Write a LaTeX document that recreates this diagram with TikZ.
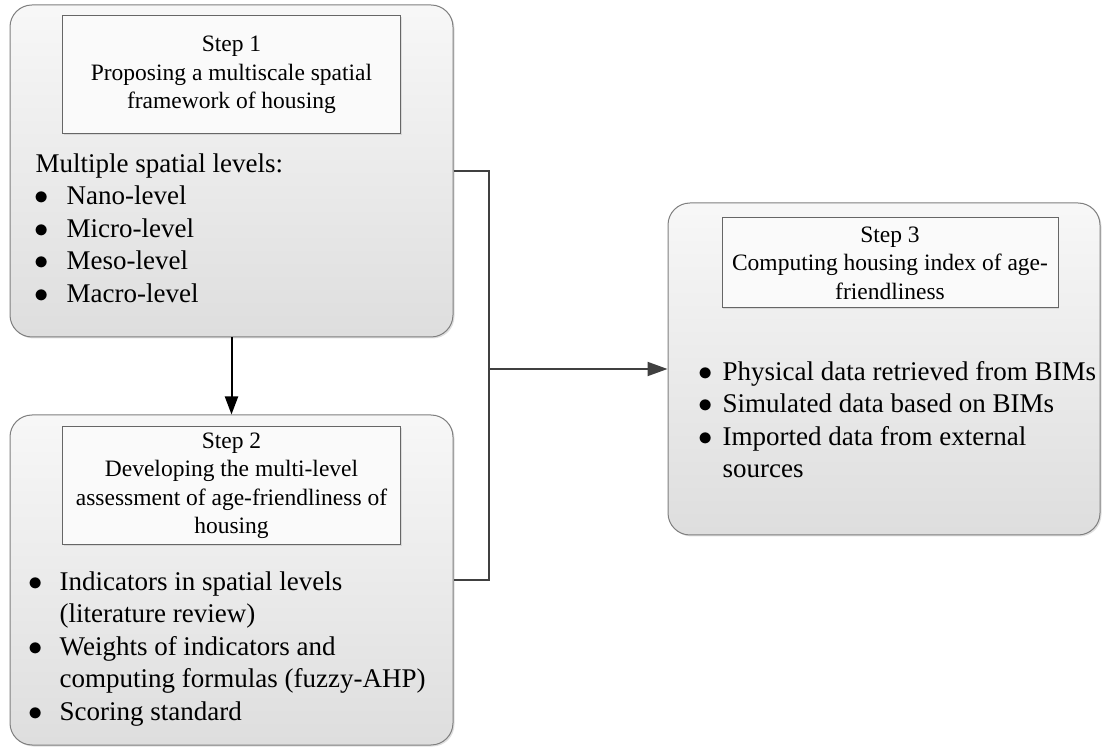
\documentclass[tikz,border=0pt]{standalone}
\usepackage{fontspec}
\setmainfont{Liberation Serif}
\usetikzlibrary{positioning,arrows.meta,shadows}
\definecolor{boxline}{HTML}{7F7F7F}
\definecolor{linkgray}{HTML}{404040}
\newcommand{\bul}[1][30pt]{\makebox[#1][l]{\kern-1.5pt\scalebox{1.15}{$\bullet$}}}
\tikzset{
    step_box/.style = {rectangle, rounded corners=22pt, draw=boxline, line width=1pt, top color=black!3, bottom color=black!13, inner sep=0pt, drop shadow={opacity=0.25, shadow xshift=1.5pt, shadow yshift=-1.5pt}},
    title_box/.style = {rectangle, align=center, inner sep=0pt, draw=black!60, line width=0.8pt, fill=black!2, minimum height=118pt, font=\fontsize{23.5}{28.5}\selectfont, drop shadow={opacity=0.2, shadow xshift=1pt, shadow yshift=-1pt}},
    list_text/.style = {align=left, inner sep=0pt, anchor=north west, font=\fontsize{27}{32.5}\selectfont},
    link/.style = {draw=linkgray, line width=2pt}
}
\begin{document}
\begin{tikzpicture}[x=1pt, y=1pt]
    \useasboundingbox (0,0) rectangle (1104,748);

    \node [step_box, minimum width=443pt, minimum height=332pt] (step1) at (231.5,577) {};
    \node [step_box, minimum width=443pt, minimum height=330pt] (step2) at (231.5,168) {};
    \node [step_box, minimum width=432pt, minimum height=332pt] (step3) at (884,379) {};

    \node [title_box, minimum width=338pt, below=11pt of step1.north] (title1)
        {Step 1\\Proposing a multiscale spatial\\framework of housing};
    \node [title_box, minimum width=338pt, below=12pt of step2.north] (title2)
        {Step 2\\Developing the multi-level\\assessment of age-friendliness of\\housing};
    \node [title_box, minimum width=336pt, minimum height=90pt, below=15pt of step3.north, xshift=6pt] (title3)
        {Step 3\\Computing housing index of age-\\friendliness};

    \node [list_text] (list1) at ([shift={(26pt,-148.6pt)}]step1.north west)
        {Multiple spatial levels:\\\bul[31pt]Nano-level\\\bul[31pt]Micro-level\\\bul[31pt]Meso-level\\\bul[31pt]Macro-level};
    \node [list_text] (list2) at ([shift={(20pt,-156.6pt)}]step2.north west)
        {\bul Indicators in spatial levels\\\hspace*{30pt}(literature review)\\\bul Weights of indicators and\\\hspace*{30pt}computing formulas (fuzzy-AHP)\\\bul Scoring standard};
    \node [list_text] (list3) at ([shift={(32pt,-158.6pt)}]step3.north west)
        {\bul[23pt]Physical data retrieved from BIMs\\\bul[23pt]Simulated data based on BIMs\\\bul[23pt]Imported data from external\\\hspace*{23pt}sources};

    \coordinate (join) at (489,379);
    \draw [line width=2pt, -{Triangle[length=18pt, width=13pt]}] (step1.south) -- (step2.north);
    \draw [link] (step1.east) -| (join) |- (step2.east);
    \draw [link, -{Triangle[length=20pt, width=14pt]}] (join) -- (step3.west);
\end{tikzpicture}
\end{document}
